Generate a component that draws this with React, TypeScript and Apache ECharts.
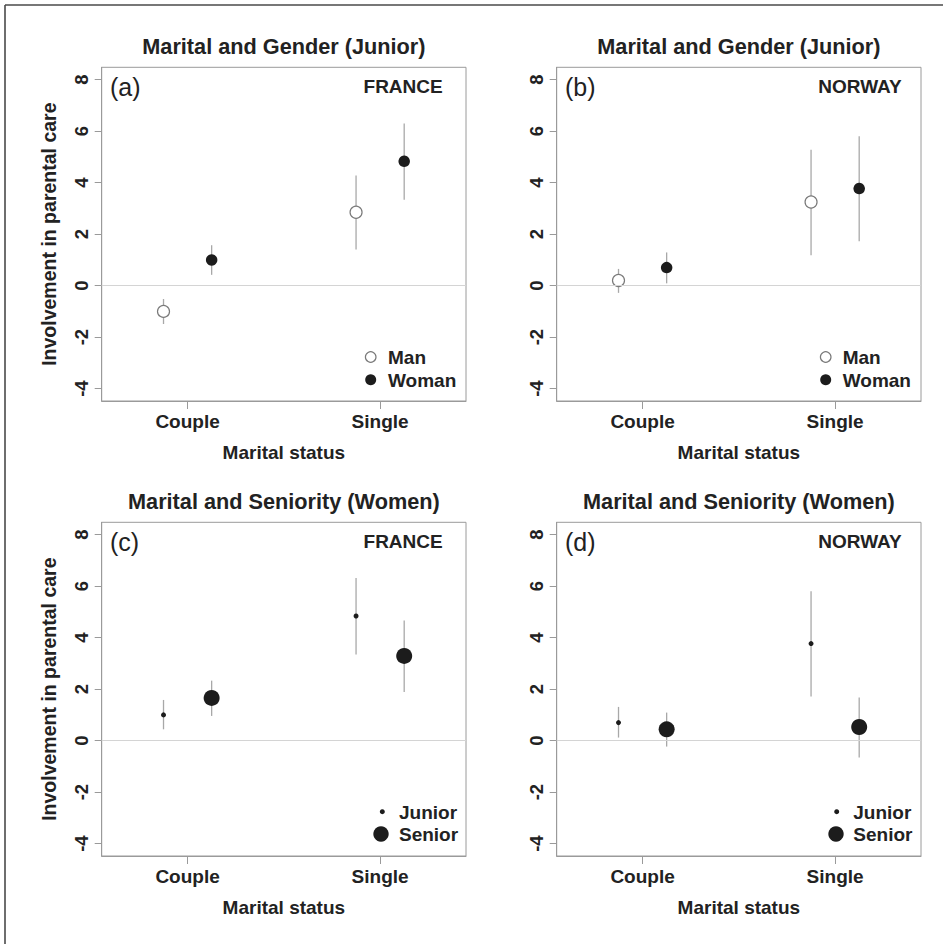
import React, { useEffect, useRef } from "react";
import * as echarts from "echarts";

// ---------- data ----------
const categories = ["Couple", "Single"];
const yTicks = [-4, -2, 0, 2, 4, 6, 8];
const xTicks = [1, 2];

// Panel (a) France, gender (junior)
const frManMean = [-1.0, 2.85];
const frManLo = [-1.49, 1.4];
const frManHi = [-0.52, 4.28];
const frWomanMean = [1.0, 4.83];
const frWomanLo = [0.42, 3.34];
const frWomanHi = [1.57, 6.3];

// Panel (b) Norway, gender (junior)
const noManMean = [0.2, 3.25];
const noManLo = [-0.28, 1.18];
const noManHi = [0.65, 5.28];
const noWomanMean = [0.7, 3.77];
const noWomanLo = [0.09, 1.72];
const noWomanHi = [1.29, 5.8];

// Panel (c) France, seniority (women)
const frJuniorMean = [1.0, 4.84];
const frJuniorLo = [0.44, 3.35];
const frJuniorHi = [1.58, 6.32];
const frSeniorMean = [1.66, 3.29];
const frSeniorLo = [0.96, 1.89];
const frSeniorHi = [2.33, 4.67];

// Panel (d) Norway, seniority (women)
const noJuniorMean = [0.7, 3.77];
const noJuniorLo = [0.12, 1.71];
const noJuniorHi = [1.31, 5.8];
const noSeniorMean = [0.44, 0.53];
const noSeniorLo = [-0.23, -0.65];
const noSeniorHi = [1.09, 1.68];

const groupOffsets = [-0.125, 0.125];

// ---------- styles ----------
const FONT = "Liberation Sans, Arial, Helvetica, sans-serif";
const TXT = "#222222";
const GRAY = "#9a9a9a";
const BAR = "#a8a8a8";

type Group = { name: string; mean: number[]; lo: number[]; hi: number[] };
type Panel = {
  title: string;
  tag: string;
  country: string;
  yName: boolean;
  groups: Group[];
};

const panels: Panel[] = [
  {
    title: "Marital and Gender (Junior)",
    tag: "(a)",
    country: "FRANCE",
    yName: true,
    groups: [
      { name: "Man", mean: frManMean, lo: frManLo, hi: frManHi },
      { name: "Woman", mean: frWomanMean, lo: frWomanLo, hi: frWomanHi },
    ],
  },
  {
    title: "Marital and Gender (Junior)",
    tag: "(b)",
    country: "NORWAY",
    yName: false,
    groups: [
      { name: "Man", mean: noManMean, lo: noManLo, hi: noManHi },
      { name: "Woman", mean: noWomanMean, lo: noWomanLo, hi: noWomanHi },
    ],
  },
  {
    title: "Marital and Seniority (Women)",
    tag: "(c)",
    country: "FRANCE",
    yName: true,
    groups: [
      { name: "Junior", mean: frJuniorMean, lo: frJuniorLo, hi: frJuniorHi },
      { name: "Senior", mean: frSeniorMean, lo: frSeniorLo, hi: frSeniorHi },
    ],
  },
  {
    title: "Marital and Seniority (Women)",
    tag: "(d)",
    country: "NORWAY",
    yName: false,
    groups: [
      { name: "Junior", mean: noJuniorMean, lo: noJuniorLo, hi: noJuniorHi },
      { name: "Senior", mean: noSeniorMean, lo: noSeniorLo, hi: noSeniorHi },
    ],
  },
];

const symbolStyle: Record<string, any> = {
  Man: { size: 12, legendR: 5.3, fill: "#ffffff", stroke: "#7a7a7a", lw: 1.2 },
  Woman: { size: 11.5, legendR: 5.5, fill: "#1c1c1c", stroke: "#1c1c1c", lw: 0 },
  Junior: { size: 5, legendR: 2.5, fill: "#1c1c1c", stroke: "#1c1c1c", lw: 0 },
  Senior: { size: 16, legendR: 7.7, fill: "#1c1c1c", stroke: "#1c1c1c", lw: 0 },
};

// layout (pixels)
const gridPos = [
  { left: 101.7, top: 67.3 },
  { left: 556.7, top: 67.3 },
  { left: 101.7, top: 522.3 },
  { left: 556.7, top: 522.3 },
];
const GW = 364.3;
const GH = 333.7;

function buildOption() {
  const grid: any[] = [];
  const xAxis: any[] = [];
  const yAxis: any[] = [];
  const series: any[] = [];
  const title: any[] = [];
  const graphic: any[] = [];

  panels.forEach((p, i) => {
    const g = gridPos[i];
    grid.push({
      left: g.left,
      top: g.top,
      width: GW,
      height: GH,
      show: true,
      borderColor: GRAY,
      borderWidth: 1,
      backgroundColor: "transparent",
    });
    xAxis.push({
      type: "value",
      gridIndex: i,
      position: "bottom",
      min: 0.554,
      max: 2.446,
      splitLine: { show: false },
      axisLine: { show: true, onZero: false, lineStyle: { color: GRAY, width: 1 } },
      axisTick: { show: true, length: 8, customValues: xTicks, lineStyle: { color: GRAY } },
      axisLabel: {
        customValues: xTicks,
        formatter: (v: number) => categories[Math.round(v) - 1] ?? "",
        margin: 11,
        fontSize: 19,
        fontWeight: "bold",
        color: TXT,
        fontFamily: FONT,
      },
      name: "Marital status",
      nameLocation: "middle",
      nameGap: 42,
      nameTextStyle: { fontSize: 19, fontWeight: "bold", color: TXT, fontFamily: FONT },
    });
    yAxis.push({
      type: "value",
      gridIndex: i,
      position: "left",
      min: -4.48,
      max: 8.48,
      splitLine: { show: false },
      axisLine: { show: true, onZero: false, lineStyle: { color: GRAY, width: 1 } },
      axisTick: { show: true, length: 7, customValues: yTicks, lineStyle: { color: GRAY } },
      axisLabel: {
        customValues: yTicks,
        rotate: 90,
        margin: 11,
        fontSize: 18.5,
        fontWeight: "bold",
        color: TXT,
        fontFamily: FONT,
      },
      name: p.yName ? "Involvement in parental care" : "",
      nameLocation: "middle",
      nameRotate: 90,
      nameGap: 43,
      nameTextStyle: { fontSize: 19.5, fontWeight: "bold", color: TXT, fontFamily: FONT },
    });

    // error bars
    const barData: number[][] = [];
    p.groups.forEach((gr, gi) => {
      categories.forEach((_, ci) => {
        barData.push([ci + 1 + groupOffsets[gi], gr.lo[ci], gr.hi[ci]]);
      });
    });
    series.push({
      type: "custom",
      name: "ci" + i,
      xAxisIndex: i,
      yAxisIndex: i,
      z: 1,
      silent: true,
      encode: { x: 0, y: [1, 2] },
      data: barData,
      renderItem: (_params: any, api: any) => {
        const a = api.coord([api.value(0), api.value(1)]);
        const b = api.coord([api.value(0), api.value(2)]);
        return {
          type: "line",
          shape: { x1: a[0], y1: a[1], x2: b[0], y2: b[1] },
          style: { stroke: BAR, lineWidth: 1.3 },
        };
      },
      markLine: {
        silent: true,
        symbol: "none",
        label: { show: false },
        lineStyle: { color: "#d4d4d4", width: 1, type: "solid" },
        data: [{ yAxis: 0 }],
      },
    });

    p.groups.forEach((gr, gi) => {
      const st = symbolStyle[gr.name];
      series.push({
        type: "scatter",
        name: gr.name,
        xAxisIndex: i,
        yAxisIndex: i,
        z: 3,
        symbol: "circle",
        symbolSize: st.size,
        itemStyle: { color: st.fill, borderColor: st.stroke, borderWidth: st.lw, opacity: 1 },
        data: categories.map((_, ci) => [ci + 1 + groupOffsets[gi], gr.mean[ci]]),
      });
    });

    // titles / annotations
    const cx = g.left + GW / 2;
    title.push({
      text: p.title,
      left: cx,
      top: g.top - 20.6,
      textAlign: "center",
      textVerticalAlign: "middle",
      padding: 0,
      textStyle: { fontSize: 21.7, fontWeight: "bold", color: TXT, fontFamily: FONT },
    });
    title.push({
      text: p.tag,
      left: g.left + 8.3,
      top: g.top + 19.5,
      textAlign: "left",
      textVerticalAlign: "middle",
      padding: 0,
      textStyle: { fontSize: 25, fontWeight: "normal", color: TXT, fontFamily: FONT },
    });
    title.push({
      text: p.country,
      left: g.left + GW - (i % 2 === 1 ? 19.3 : 23.3),
      top: g.top + 19,
      textAlign: "right",
      textVerticalAlign: "middle",
      padding: 0,
      textStyle: { fontSize: 19, fontWeight: "bold", color: TXT, fontFamily: FONT },
    });
  });

  // legends (drawn as keys: symbol + label)
  const legendSpec = [
    { name: "Man", cx: 370.7, cy: 357, tx: 388 },
    { name: "Woman", cx: 370.7, cy: 379.7, tx: 388 },
    { name: "Man", cx: 825.7, cy: 357, tx: 842.7 },
    { name: "Woman", cx: 825.7, cy: 379.7, tx: 842.7 },
    { name: "Junior", cx: 382.3, cy: 811.7, tx: 399 },
    { name: "Senior", cx: 381, cy: 834, tx: 399 },
    { name: "Junior", cx: 836.7, cy: 811.7, tx: 853.3 },
    { name: "Senior", cx: 836, cy: 834, tx: 853.3 },
  ];
  legendSpec.forEach((l) => {
    const st = symbolStyle[l.name];
    graphic.push({
      type: "circle",
      silent: true,
      shape: { cx: l.cx, cy: l.cy, r: st.legendR },
      style: { fill: st.fill, stroke: st.lw > 0 ? st.stroke : null, lineWidth: st.lw },
    });
    graphic.push({
      type: "text",
      silent: true,
      x: l.tx,
      y: l.cy + 0.5,
      style: {
        text: l.name,
        fill: TXT,
        font: `bold 19px ${FONT}`,
        align: "left",
        verticalAlign: "middle",
      },
    });
  });

  graphic.push(
    {
      type: "line",
      shape: { x1: 5, y1: 5, x2: 943, y2: 5 },
      style: { stroke: "#4a4a4a", lineWidth: 1.6 },
      silent: true,
    },
    {
      type: "line",
      shape: { x1: 5, y1: 5, x2: 5, y2: 944 },
      style: { stroke: "#4a4a4a", lineWidth: 1.6 },
      silent: true,
    }
  );

  return {
    animation: false,
    backgroundColor: "#ffffff",
    grid,
    xAxis,
    yAxis,
    series,
    title,
    graphic,
  };
}

export default function App() {
  const ref = useRef<HTMLDivElement>(null);
  useEffect(() => {
    if (!ref.current) return;
    const chart = echarts.init(ref.current, undefined, { renderer: "svg" });
    chart.setOption(buildOption() as any);
    return () => chart.dispose();
  }, []);
  return (
    <div
      ref={ref}
      style={{ position: "fixed", left: 0, top: 0, width: 943, height: 944, background: "#fff" }}
    />
  );
}
